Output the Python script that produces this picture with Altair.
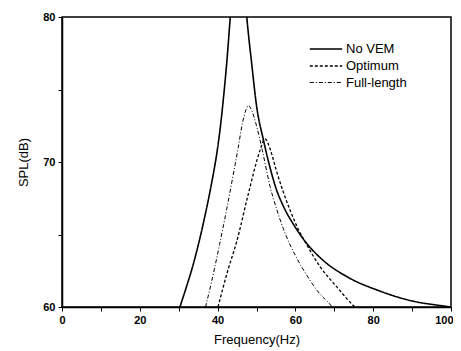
import altair as alt
import pandas as pd

# No VEM (peak runs off the top of the plot)
novem_f = [30.3, 32.0, 33.8, 35.5, 37.0, 38.5, 39.8, 40.7, 41.5, 42.4, 43.2, 44.0, 45.3, 46.6,
           47.5, 48.8, 50.0, 51.8, 53.3, 55.0, 57.0, 59.5, 62.0, 67.2, 73.2, 81.7, 90.3, 97.2, 100]
novem_db = [60.0, 61.4, 63.0, 64.8, 66.6, 68.6, 70.6, 72.4, 74.4, 77.0, 79.8, 82.5, 86.0, 83.0,
            80.0, 76.7, 73.9, 71.5, 69.8, 68.2, 66.9, 65.7, 64.7, 63.2, 62.1, 61.1, 60.4, 60.1, 60.0]

# Optimum
opt_f = [40.1, 42.5, 44.9, 47.9, 50.9, 52.2, 53.5, 55.0, 56.8, 58.6, 60.5, 62.9, 66.3, 70.6, 74.9, 75.3]
opt_db = [60.0, 62.4, 64.5, 67.8, 70.8, 71.6, 70.9, 69.5, 68.0, 66.7, 65.5, 64.3, 62.8, 61.4, 60.1, 60.0]

# Full-length
full_f = [36.9, 38.5, 40.5, 42.3, 44.0, 45.3, 46.4, 47.3, 47.9, 48.7, 50.0, 51.5, 53.5,
          55.0, 56.9, 60.3, 62.9, 66.3, 68.5, 69.5]
full_db = [60.0, 61.8, 64.3, 66.7, 69.1, 71.0, 72.7, 73.6, 73.9, 73.6, 72.5, 70.8, 68.3,
           66.9, 65.4, 63.4, 62.2, 60.9, 60.3, 60.0]

series = ["No VEM", "Optimum", "Full-length"]

rows = []
for name, fs, ds in [("No VEM", novem_f, novem_db), ("Optimum", opt_f, opt_db), ("Full-length", full_f, full_db)]:
    for i, (f, d) in enumerate(zip(fs, ds)):
        rows.append({"series": name, "f": f, "spl": d, "order": i})
df = pd.DataFrame(rows)

font = "Liberation Sans"

chart = alt.Chart(df).mark_line(color="black", clip=True, interpolate="monotone").encode(
    x=alt.X("f:Q", title="Frequency(Hz)",
            scale=alt.Scale(domain=[0, 100], nice=False, zero=False),
            axis=alt.Axis(values=list(range(0, 101, 10)),
                          labelExpr="datum.value % 20 == 0 ? datum.value : ''",
                          labelAlign=alt.ExprRef("datum.value == 100 ? 'right' : 'center'"),
                          labelOffset=alt.ExprRef("datum.value == 100 ? 2 : 0"),
                          grid=False, tickSize=4, labelFontWeight="bold", labelFontSize=11,
                          labelFlush=False,
                          labelFont=font, titleFont=font, titleFontSize=13, titleFontWeight="normal",
                          labelPadding=3, titlePadding=8, domainWidth=1.5, tickColor="black",
                          domainColor="black", labelColor="black", titleColor="black")),
    y=alt.Y("spl:Q", title="SPL(dB)",
            scale=alt.Scale(domain=[60, 80], nice=False, zero=False),
            axis=alt.Axis(values=[60, 65, 70, 75, 80],
                          labelExpr="datum.value % 10 == 0 ? datum.value : ''",
                          grid=False, tickSize=4, labelFontWeight="bold", labelFontSize=11,
                          labelFlush=False,
                          labelFont=font, titleFont=font, titleFontSize=13, titleFontWeight="normal",
                          labelPadding=3, titlePadding=12, domainWidth=1.5, tickColor="black",
                          domainColor="black", labelColor="black", titleColor="black")),
    strokeDash=alt.StrokeDash("series:N",
                              scale=alt.Scale(domain=series, range=[[1, 0], [3, 2], [4, 2, 1, 2]]),
                              legend=alt.Legend(title=None, orient="none", legendX=254, legendY=22,
                                                symbolType="M-1.8,0L1.8,0", symbolSize=324,
                                                symbolStrokeColor="black", symbolStrokeWidth=1.2,
                                                symbolFillColor="transparent",
                                                labelFont=font,
                                                labelFontSize=13, labelColor="black",
                                                rowPadding=0, labelOffset=10)),
    strokeWidth=alt.StrokeWidth("series:N",
                                scale=alt.Scale(domain=series, range=[1.6, 1.0, 1.0]),
                                legend=None),
    order="order:Q",
    detail="series:N",
).properties(
    width=389, height=290,
    autosize=alt.AutoSizeParams(type="none"),
    padding={"left": 54, "top": 9, "right": 2, "bottom": 44},
).configure_view(stroke="black", strokeWidth=1.5)

chart.save("out.html", embed_options={"renderer": "svg", "actions": False})
